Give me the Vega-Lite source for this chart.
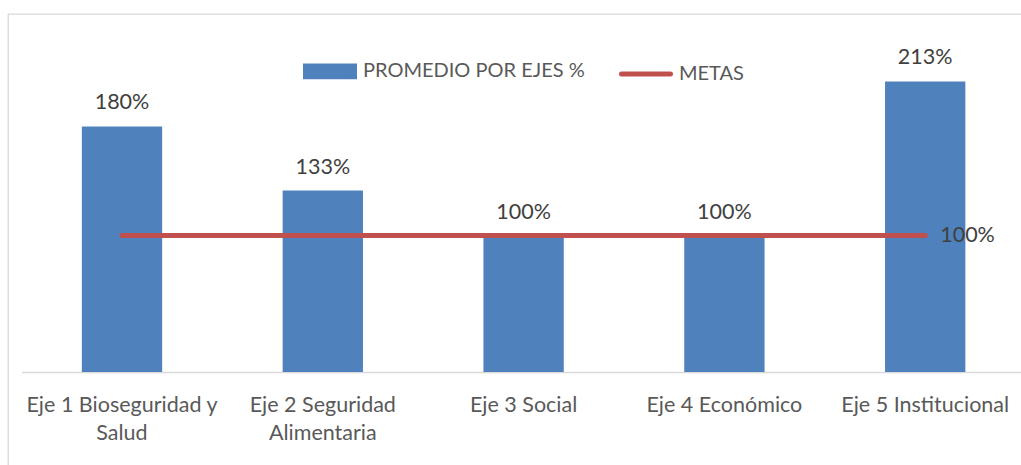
{
  "$schema": "https://vega.github.io/schema/vega-lite/v6.json",
  "width": 1020,
  "height": 460,
  "autosize": "none",
  "padding": {"left": 8, "top": 14, "right": 0, "bottom": 0},
  "background": "white",
  "config": {"view": {"stroke": "#D9D9D9", "strokeWidth": 1.3}, "font": "Lato"},
  "data": {"values": [
    {"eje": "Eje 1 Bioseguridad y Salud", "promedio": 1.80, "meta": 1.00, "serieBar": "PROMEDIO POR EJES %", "serieLine": "METAS"},
    {"eje": "Eje 2 Seguridad Alimentaria", "promedio": 1.33, "meta": 1.00, "serieBar": "PROMEDIO POR EJES %", "serieLine": "METAS"},
    {"eje": "Eje 3 Social", "promedio": 1.00, "meta": 1.00, "serieBar": "PROMEDIO POR EJES %", "serieLine": "METAS"},
    {"eje": "Eje 4 Económico", "promedio": 1.00, "meta": 1.00, "serieBar": "PROMEDIO POR EJES %", "serieLine": "METAS"},
    {"eje": "Eje 5 Institucional", "promedio": 2.13, "meta": 1.00, "serieBar": "PROMEDIO POR EJES %", "serieLine": "METAS"}
  ]},
  "encoding": {
    "x": {
      "field": "eje", "type": "nominal", "sort": null,
      "scale": {"range": [13.6, 1017.6], "paddingInner": 0.6, "paddingOuter": 0.3},
      "axis": {
        "title": null, "orient": "bottom", "offset": -102,
        "domainColor": "#D9D9D9", "domainWidth": 1.5, "ticks": false,
        "labelFontSize": 21.5, "labelColor": "#595959", "labelAngle": 0,
        "labelPadding": 22, "labelLineHeight": 28, "labelLimit": 400,
        "labelExpr": "datum.value == 'Eje 1 Bioseguridad y Salud' ? ['Eje 1 Bioseguridad y', 'Salud'] : datum.value == 'Eje 2 Seguridad Alimentaria' ? ['Eje 2 Seguridad', 'Alimentaria'] : datum.value"
      }
    }
  },
  "layer": [
    {
      "mark": {"type": "bar"},
      "encoding": {
        "y": {"field": "promedio", "type": "quantitative", "scale": {"domain": [0, 2.5], "range": [358, 17], "nice": false, "zero": true}, "axis": null},
        "color": {
          "field": "serieBar", "type": "nominal",
          "scale": {"domain": ["PROMEDIO POR EJES %", "METAS"], "range": ["#4F81BD", "#C0504D"]},
          "legend": {
            "orient": "none", "legendX": 295, "legendY": 30, "direction": "horizontal",
            "title": null, "padding": 0, "labelFontSize": 20, "labelColor": "#595959", "labelLimit": 400,
            "symbolSize": 2400, "symbolType": "M-1,-0.22H1V0.22H-1Z",
            "columnPadding": 26, "labelOffset": 6,
            "encode": {"symbols": {"update": {
              "shape": {"signal": "datum.value === 'METAS' ? 'M-1,0H1' : 'M-1,-0.22H1V0.22H-1Z'"},
              "fill": {"signal": "datum.value === 'METAS' ? 'transparent' : '#4F81BD'"},
              "stroke": {"signal": "datum.value === 'METAS' ? '#C0504D' : 'transparent'"},
              "strokeWidth": {"value": 5},
              "strokeCap": {"value": "round"},
              "opacity": {"value": 1}
            }}}
          }
        }
      }
    },
    {
      "mark": {"type": "text", "dy": -17, "baseline": "alphabetic", "fontSize": 21.5, "color": "#404040"},
      "encoding": {
        "y": {"field": "promedio", "type": "quantitative"},
        "text": {"field": "promedio", "type": "quantitative", "format": ".0%"}
      }
    },
    {
      "mark": {"type": "line", "strokeWidth": 5, "strokeCap": "round"},
      "encoding": {
        "y": {"field": "meta", "type": "quantitative"},
        "color": {"field": "serieLine", "type": "nominal"}
      }
    },
    {
      "transform": [{"filter": "datum.eje == 'Eje 5 Institucional'"}],
      "mark": {"type": "text", "align": "left", "dx": 15, "baseline": "middle", "fontSize": 21.5, "color": "#404040"},
      "encoding": {
        "y": {"field": "meta", "type": "quantitative"},
        "text": {"field": "meta", "type": "quantitative", "format": ".0%"}
      }
    }
  ]
}
